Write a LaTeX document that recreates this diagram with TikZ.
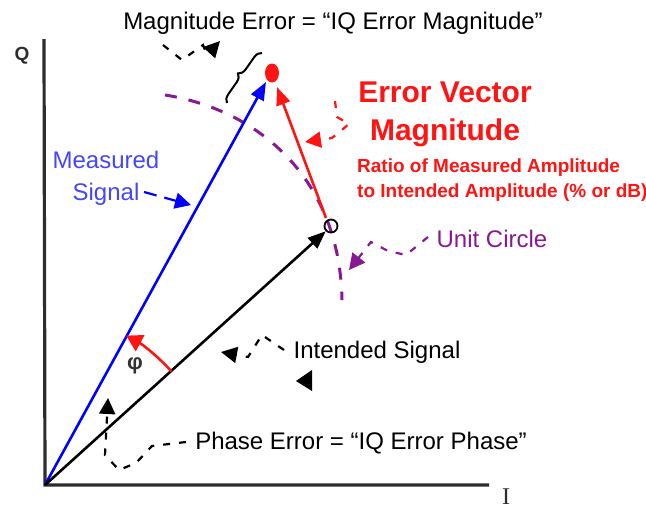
\documentclass[tikz,border=0pt]{standalone}
\usepackage{fontspec}
\setmainfont{Liberation Sans}
\newfontfamily\seriffont{Liberation Serif}
\usetikzlibrary{arrows.meta,decorations.pathreplacing,shapes.geometric,calc}
\definecolor{mypurple}{RGB}{135,25,145}
\definecolor{textblue}{RGB}{70,70,245}
\definecolor{myred}{RGB}{255,20,20}
\definecolor{axisgray}{RGB}{45,45,45}
\begin{document}
\begin{tikzpicture}[x=1pt,y=-1pt,
  axisline/.style={line width=3.2pt, draw=axisgray, line join=miter},
  vec/.style={line width=2.6pt,-{Triangle[length=18pt,width=14pt]}},
  annot/.style={line width=2.2pt, dash pattern=on 7pt off 9pt, -{Triangle[length=16pt,width=16pt]}},
  lbl/.style={font=\fontsize{24}{28}\selectfont, inner sep=0pt},
  bigred/.style={font=\bfseries\fontsize{30}{38}\selectfont, inner sep=0pt, text=myred, align=center},
  smallred/.style={font=\bfseries\fontsize{19}{25}\selectfont, inner sep=0pt, text=myred, align=left},
  ]
\useasboundingbox (0,0) rectangle (646,509);
% axes
\coordinate (O) at (45,485);
\coordinate (Qtop) at (44,39);
\coordinate (Iend) at (489,485);
\draw[axisline] (Qtop) -- (O) -- (Iend);
\node[font=\bfseries\fontsize{19}{22}\selectfont, text=axisgray] (Q) at (22,56) {Q};
\node[font=\seriffont\fontsize{24}{26}\selectfont, text=axisgray] (I) at (506,497) {I};

% unit circle (dashed arc)
\coordinate (ucA) at (165,95);
\coordinate (ucB) at (342,300);
\draw[mypurple, line width=3pt, dash pattern=on 12pt off 12pt] (ucA) .. controls (260,110) and (340,180) .. (ucB);

% points
\node[circle, draw, line width=1.8pt, minimum size=13pt, inner sep=0pt] (uc) at (331,226) {};
\node[ellipse, fill=myred, minimum width=14pt, minimum height=19pt, inner sep=0pt] (rd) at (272,73) {};
\coordinate (btip) at (266,82);
\coordinate (rtip) at (277,87);
\coordinate (rstart) at (326,218);

% vectors
\draw[vec, blue] (O) -- (btip);
\draw[vec, black] (O) -- (uc.south west);
\draw[vec, myred] (rstart) -- (rtip);

% phase angle
\coordinate (A1) at ($(O)+(-42:170)$);
\draw[myred, line width=2.6pt, -{Triangle[length=16pt,width=18pt]}] (A1) arc[start angle=-42, end angle=-61.5, radius=170];
\node[font=\bfseries\fontsize{22}{24}\selectfont, text=black!80] (phi) at (135,366) {φ};

% brace
\coordinate (brA) at (227,103);
\coordinate (brB) at (262,53);
\draw[decorate, decoration={brace, amplitude=8pt}, line width=2pt] (brA) -- (brB);

% texts
\node[lbl] (magerr) at (333,23) {Magnitude Error = “IQ Error Magnitude”};
\node[lbl, text=textblue, align=center, font=\fontsize{24}{32}\selectfont] (meas) at (106,178) {Measured\\Signal};
\node[bigred] (evm) at (445,114) {Error Vector\\Magnitude};
\node[smallred, anchor=west] (ratio) at (357,180) {Ratio of Measured Amplitude\\to Intended Amplitude (\% or dB)};
\node[lbl, text=mypurple] (unitc) at (492,239) {Unit Circle};
\node[lbl] (intsig) at (377,352) {Intended Signal};
\node[lbl] (pherr) at (361,443) {Phase Error = “IQ Error Phase”};

% annotation connectors
\coordinate (m1) at (163,45);
\coordinate (m2) at (182,60);
\coordinate (m3) at (203,45);
\coordinate (m4) at (207,55);
\coordinate (m5) at (220,41);
\draw[annot] (m1) -- (m2) -- (m3) -- (m4) -- (m5);

\coordinate (s1) at (144,192);
\coordinate (s2) at (191,205);
\draw[annot, blue, dash pattern=on 13pt off 8pt] (s1) -- (s2);

\coordinate (e1) at (335,101);
\coordinate (e2) at (337,117);
\coordinate (e3) at (349,124);
\coordinate (e4) at (332,138);
\coordinate (e5) at (305,142);
\draw[annot, myred] (e1) -- (e2) -- (e3) -- (e4) -- (e5);

\coordinate (u1) at (428,237);
\coordinate (u2) at (406,255);
\coordinate (u3) at (388,251);
\coordinate (u4) at (371,242);
\coordinate (u5) at (349,270);
\draw[annot, mypurple] (u1) -- (u2) -- (u3) -- (u4) -- (u5);

\coordinate (i1) at (284,350);
\coordinate (i2) at (262,335);
\coordinate (i3) at (248,357);
\coordinate (i4) at (221,352);
\draw[annot] (i1) -- (i2) -- (i3) -- (i4);
\fill (312,370) -- (312,391) -- (296,381) -- cycle;

\coordinate (p1) at (186,442);
\coordinate (p2) at (152,446);
\coordinate (p3) at (136,463);
\coordinate (p4) at (119,470);
\coordinate (p5) at (105,455);
\coordinate (p6) at (108,398);
\draw[annot] (p1) -- (p2) -- (p3) -- (p4) -- (p5) -- (p6);
\end{tikzpicture}
\end{document}
